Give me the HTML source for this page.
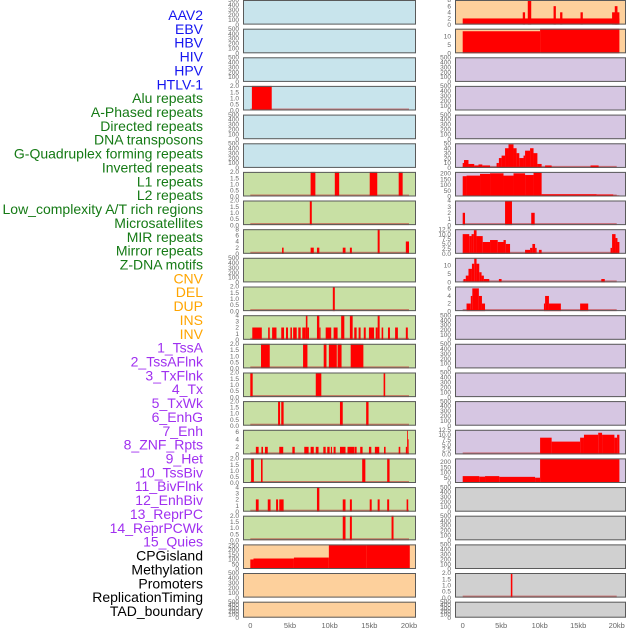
<!DOCTYPE html>
<html><head><meta charset="utf-8"><style>
html,body{margin:0;padding:0;background:#fff;}
svg{display:block;font-family:"Liberation Sans",sans-serif;}
</style></head><body>
<svg id="chart" width="630" height="630" viewBox="0 0 630 630" xmlns="http://www.w3.org/2000/svg"></svg>
<script>
// ---- data ----
const labelNames = ["AAV2","EBV","HBV","HIV","HPV","HTLV-1","Alu repeats","A-Phased repeats","Directed repeats","DNA transposons","G-Quadruplex forming repeats","Inverted repeats","L1 repeats","L2 repeats","Low_complexity A/T rich regions","Microsatellites","MIR repeats","Mirror repeats","Z-DNA motifs","CNV","DEL","DUP","INS","INV","1_TssA","2_TssAFlnk","3_TxFlnk","4_Tx","5_TxWk","6_EnhG","7_Enh","8_ZNF_Rpts","9_Het","10_TssBiv","11_BivFlnk","12_EnhBiv","13_ReprPC","14_ReprPCWk","15_Quies","CPGisland","Methylation","Promoters","ReplicationTiming","TAD_boundary"];
const labelGroups = [6,13,5,15,5];
const groupColors = ["#1515f0","#157a15","#ffa500","#a030f0","#000000"];
const xTickKb = [0,5,10,15,20];
const xTickLabels = ["0","5kb","10kb","15kb","20kb"];

const B = "#c8e4ec", G = "#c8e0a4", P = "#fdd09c", V = "#d6c6e2", Y = "#d0d0d0";
const leftBg = [B,B,B,B,B,B,G,G,G,G,G,G,G,G,G,G,G,G,G,P,P,P];
const rightBg = [P,P,V,V,V,V,V,V,V,V,V,V,V,V,V,V,V,Y,Y,Y,Y,Y];

// tick sets
const tE = [0,100,200,300,400,500];
const t2 = [0,0.5,1,1.5,2];
const t4 = [0,1,2,3,4];
const t8 = [0,2,4,6,8];
const t6 = [0,2,4,6];
const t250 = [0,50,100,150,200,250];
const t10 = [0,5,10];
const t50 = [0,10,20,30,40,50];
const t200 = [0,50,100,150,200];
const t125 = [0,2.5,5,7.5,10,12.5];

// left column segments [startKb, endKb, value]
const L3 = [[0.2,2.7,2]];
const L6 = [[7.6,8.2,2],[10.65,11.2,2],[15.05,16.0,2],[18.7,19.2,2]];
const L7 = [[7.5,7.75,2]];
const L8 = [[4.0,4.2,2],[7.6,8.0,2],[8.4,8.7,2],[11.65,12.0,2],[12.55,12.8,2],[16.05,16.3,8],[19.6,20.0,4]];
const L10 = [[10.4,10.65,2]];
const L11 = [[0.25,1.45,2],[2.25,2.45,2],[2.75,3.3,2],[3.9,4.25,2],[4.5,4.75,2],[5.05,5.25,2],[5.4,5.85,2],[6.05,6.35,2],[6.55,7.0,2],[7.0,7.2,4],[7.2,7.4,2],[8.4,8.7,4],[8.7,8.85,2],[9.5,10.2,2],[10.5,11.0,2],[11.45,11.85,4],[12.55,12.9,4],[13.1,13.4,2],[13.65,13.9,2],[14.3,14.55,2],[14.95,15.6,2],[15.8,16.05,2],[16.05,16.3,4],[16.55,16.75,2],[17.35,17.6,2],[18.25,18.6,2],[19.6,19.85,2]];
const L12 = [[1.35,2.45,2],[6.65,7.2,2],[9.25,9.6,2],[9.9,10.9,2],[11.0,11.5,2],[12.65,14.25,2]];
const L13 = [[0.0,0.3,2],[8.25,8.95,2],[16.8,17.0,2]];
const L14 = [[3.5,3.75,2],[3.9,4.2,2],[11.3,11.65,2],[14.6,14.9,2]];
const L15 = [[0.7,1.05,2],[1.4,1.6,2],[1.85,2.2,2],[3.65,4.15,2],[5.3,5.6,2],[6.8,7.35,2],[7.6,8.0,2],[8.25,8.6,2],[9.2,9.5,2],[9.7,10.0,2],[10.15,10.3,2],[10.5,10.75,2],[11.3,12.0,2],[12.25,13.1,2],[13.15,13.4,2],[13.85,14.15,2],[14.95,15.25,2],[15.7,16.25,2],[16.85,17.05,2],[18.7,18.9,2],[19.6,19.75,2],[19.75,19.85,6.3],[19.85,19.95,4]];
const L16 = [[0.1,0.45,2],[1.35,1.55,2],[14.1,14.5,2],[17.25,17.55,2]];
const L17 = [[0.7,1.05,2],[2.2,2.55,2],[3.25,3.5,2],[3.65,4.2,2],[8.4,8.7,4],[11.65,12.0,2],[12.55,12.8,2],[15.05,15.3,2],[16.05,16.3,2],[17.25,17.5,2],[19.7,19.9,2]];
const L18 = [[11.65,12.0,2],[12.55,12.8,2],[17.8,18.05,2]];
const L19 = [[0,0.4,100],[0.4,5.5,110],[5.5,9.9,120],[9.9,14.6,250],[14.6,20.1,255]];

// right column segments
const R0 = [[0,20.35,2],[7.8,8.1,4],[8.45,8.9,8],[11.8,12.1,6],[12.65,12.95,4],[15.3,15.6,4],[19.4,20.35,4],[19.75,20.1,6]];
const R1 = [[0,10.05,13],[10.05,20.35,14.5]];
const R5 = [[0,0.17,10],[0.17,0.75,16],[0.75,1.5,8],[1.5,2.05,5],[2.05,2.55,7],[2.55,3.55,5],[4.4,4.7,10],[4.7,5.05,20],[5.05,5.5,25],[5.5,5.95,40],[5.95,6.6,48],[6.6,7.0,40],[7.0,7.35,30],[7.35,7.9,20],[7.9,8.1,25],[8.1,8.75,35],[8.75,9.2,40],[9.2,9.7,30],[9.7,10.25,8],[10.7,11.55,5],[16.6,17.65,5]];
const R6 = [[0,0.5,175],[0.5,2.25,180],[2.25,3.55,195],[3.55,5.3,200],[5.3,6.6,180],[6.6,8.1,200],[8.1,9.2,185],[9.2,10.25,210],[10.25,17.4,20],[17.4,19.55,18],[19.55,20.35,10]];
const R7 = [[0,0.3,2],[5.5,6.4,4],[8.9,9.35,2]];
const R8 = [[0,0.85,10],[0.85,1.15,9],[1.15,1.45,10],[1.45,1.8,12],[1.8,2.6,9],[2.6,3.55,6],[3.55,4.55,7],[4.55,5.3,6],[5.3,5.6,7],[5.6,6.15,5],[8.1,8.75,2],[8.75,9.05,3],[9.05,9.4,5],[9.4,9.6,3],[9.9,10.25,2],[19.2,19.4,3],[19.4,19.85,10],[19.85,20.1,8],[20.1,20.35,6]];
const R9 = [[0.1,0.4,2],[0.4,0.75,4],[0.75,1.2,8],[1.2,1.5,11],[1.5,1.8,14],[1.8,2.15,11],[2.15,2.45,6],[2.45,2.75,4],[2.75,3.45,2],[4.7,5.05,2],[18.0,18.45,2]];
const R10 = [[0.5,1.05,2],[1.05,1.25,4],[1.25,2.1,6],[2.1,2.5,4],[2.5,2.9,2],[10.55,10.7,2],[10.7,11.2,4],[11.2,12.75,2],[15.25,16.3,2]];
const R15 = [[10.05,11.55,8.5],[11.55,15.25,6.5],[15.25,15.75,8.5],[15.75,17.6,10],[17.6,18.1,11],[18.1,19.7,10],[19.7,20.05,8.5],[20.05,20.35,10]];
const R16 = [[0,2.15,65],[2.15,2.9,60],[2.9,4.75,65],[4.75,9.4,58],[9.4,10.05,50],[10.05,20.35,225]];
const R20 = [[6.25,6.45,2]];

// per-panel config: [ticks, max, segments, baseline]
const leftPanels = [
 [tE,500,null,0],[tE,500,null,0],[tE,500,null,0],[t2,2,L3,1],[tE,500,null,0],[tE,500,null,0],
 [t2,2,L6,1],[t2,2,L7,1],[t8,8,L8,1],[tE,500,null,0],[t2,2,L10,1],[t4,4,L11,1],[t2,2,L12,1],
 [t2,2,L13,1],[t2,2,L14,1],[t6,6.5,L15,1],[t2,2,L16,1],[t4,4,L17,1],[t2,2,L18,1],[t250,258,L19,0],
 [tE,500,null,0],[tE,500,null,0]];
const rightPanels = [
 [t8,8,R0,0],[t10,14.5,R1,0],[tE,500,null,0],[tE,500,null,0],[tE,500,null,0],[t50,50,R5,1],
 [t200,212,R6,1],[t4,4,R7,1],[t125,12.5,R8,1],[t10,14.5,R9,1],[t6,6.5,R10,1],[tE,500,null,0],
 [tE,500,null,0],[tE,500,null,0],[tE,500,null,0],[t125,12.5,R15,1],[t200,232,R16,0],[tE,500,null,0],
 [tE,500,null,0],[tE,500,null,0],[t2,2,R20,1],[tE,500,null,0]];

// ---- drawing ----
const NS = "http://www.w3.org/2000/svg";
const svg = document.getElementById("chart");
function mk(tag, attrs, parent){
  const e = document.createElementNS(NS, tag);
  for (const k in attrs) e.setAttribute(k, attrs[k]);
  (parent||svg).appendChild(e);
  return e;
}
function rowTop(i){ return Math.round(i*28.65*10)/10; }
function rowH(i){ return i===21 ? 16 : 24.6; }
const cols = [
  {x0:243, x1:416, k0:250.3, k1:409.0, bg:leftBg, panels:leftPanels, name:"left"},
  {x0:455, x1:626, k0:462.7, k1:616.7, bg:rightBg, panels:rightPanels, name:"right"}
];
function fmt(v, ticks){
  const dec = ticks.some(t => t % 1 !== 0);
  return dec ? v.toFixed(1) : String(v);
}

cols.forEach(c => {
  const xs = kb => c.k0 + (c.k1 - c.k0) * kb / 20;
  c.panels.forEach((p, i) => {
    const [ticks, max, segs, base] = p;
    const top = rowTop(i), h = rowH(i), bot = top + h;
    const ys = v => bot - Math.min(v, max) / max * h;
    const g = mk("g", {});
    
    
    const bg = mk("rect", {x:c.x0, y:top, width:c.x1-c.x0, height:h, fill:c.bg[i]}, g);
    
    
    if (base) {
      const bl = mk("rect", {x:xs(0), y:bot-2, width:xs(20)-xs(0), height:2, fill:"#c03030", opacity:0.6}, g);
      
      
    }
    if (segs) segs.forEach(s => {
      const r = mk("rect", {x:xs(s[0]), y:ys(s[2]), width:Math.max(xs(s[1])-xs(s[0]),0.8), height:bot-ys(s[2]), fill:"#ff0000"}, g);
      
      
    });
    const fr = mk("rect", {x:c.x0+0.5, y:top+0.5, width:c.x1-c.x0-1, height:h-1, fill:"none", stroke:"#5a5a5a", "stroke-width":1}, g);
    
    
    ticks.forEach(t => {
      const tx = mk("text", {x:c.x0-4, y:ys(t)+2.2, "font-size":"6.5", fill:"#666", "text-anchor":"end"}, g);
      
      
      tx.textContent = fmt(t, ticks);
    });
  });
  xTickKb.forEach((k, j) => {
    const tx = mk("text", {x:xs(k), y:628, "font-size":"7.5", fill:"#666", "text-anchor":"middle"});
    
    
    tx.textContent = xTickLabels[j];
  });
});

// labels
let idx = 0;
labelGroups.forEach((n, gi) => {
  for (let k = 0; k < n; k++, idx++) {
    const t = mk("text", {x:203, y:15 + idx*13.86 + 5, "font-size":"14", fill:groupColors[gi], "text-anchor":"end"});
    
    
    t.textContent = labelNames[idx];
  }
});
</script>
</body></html>
